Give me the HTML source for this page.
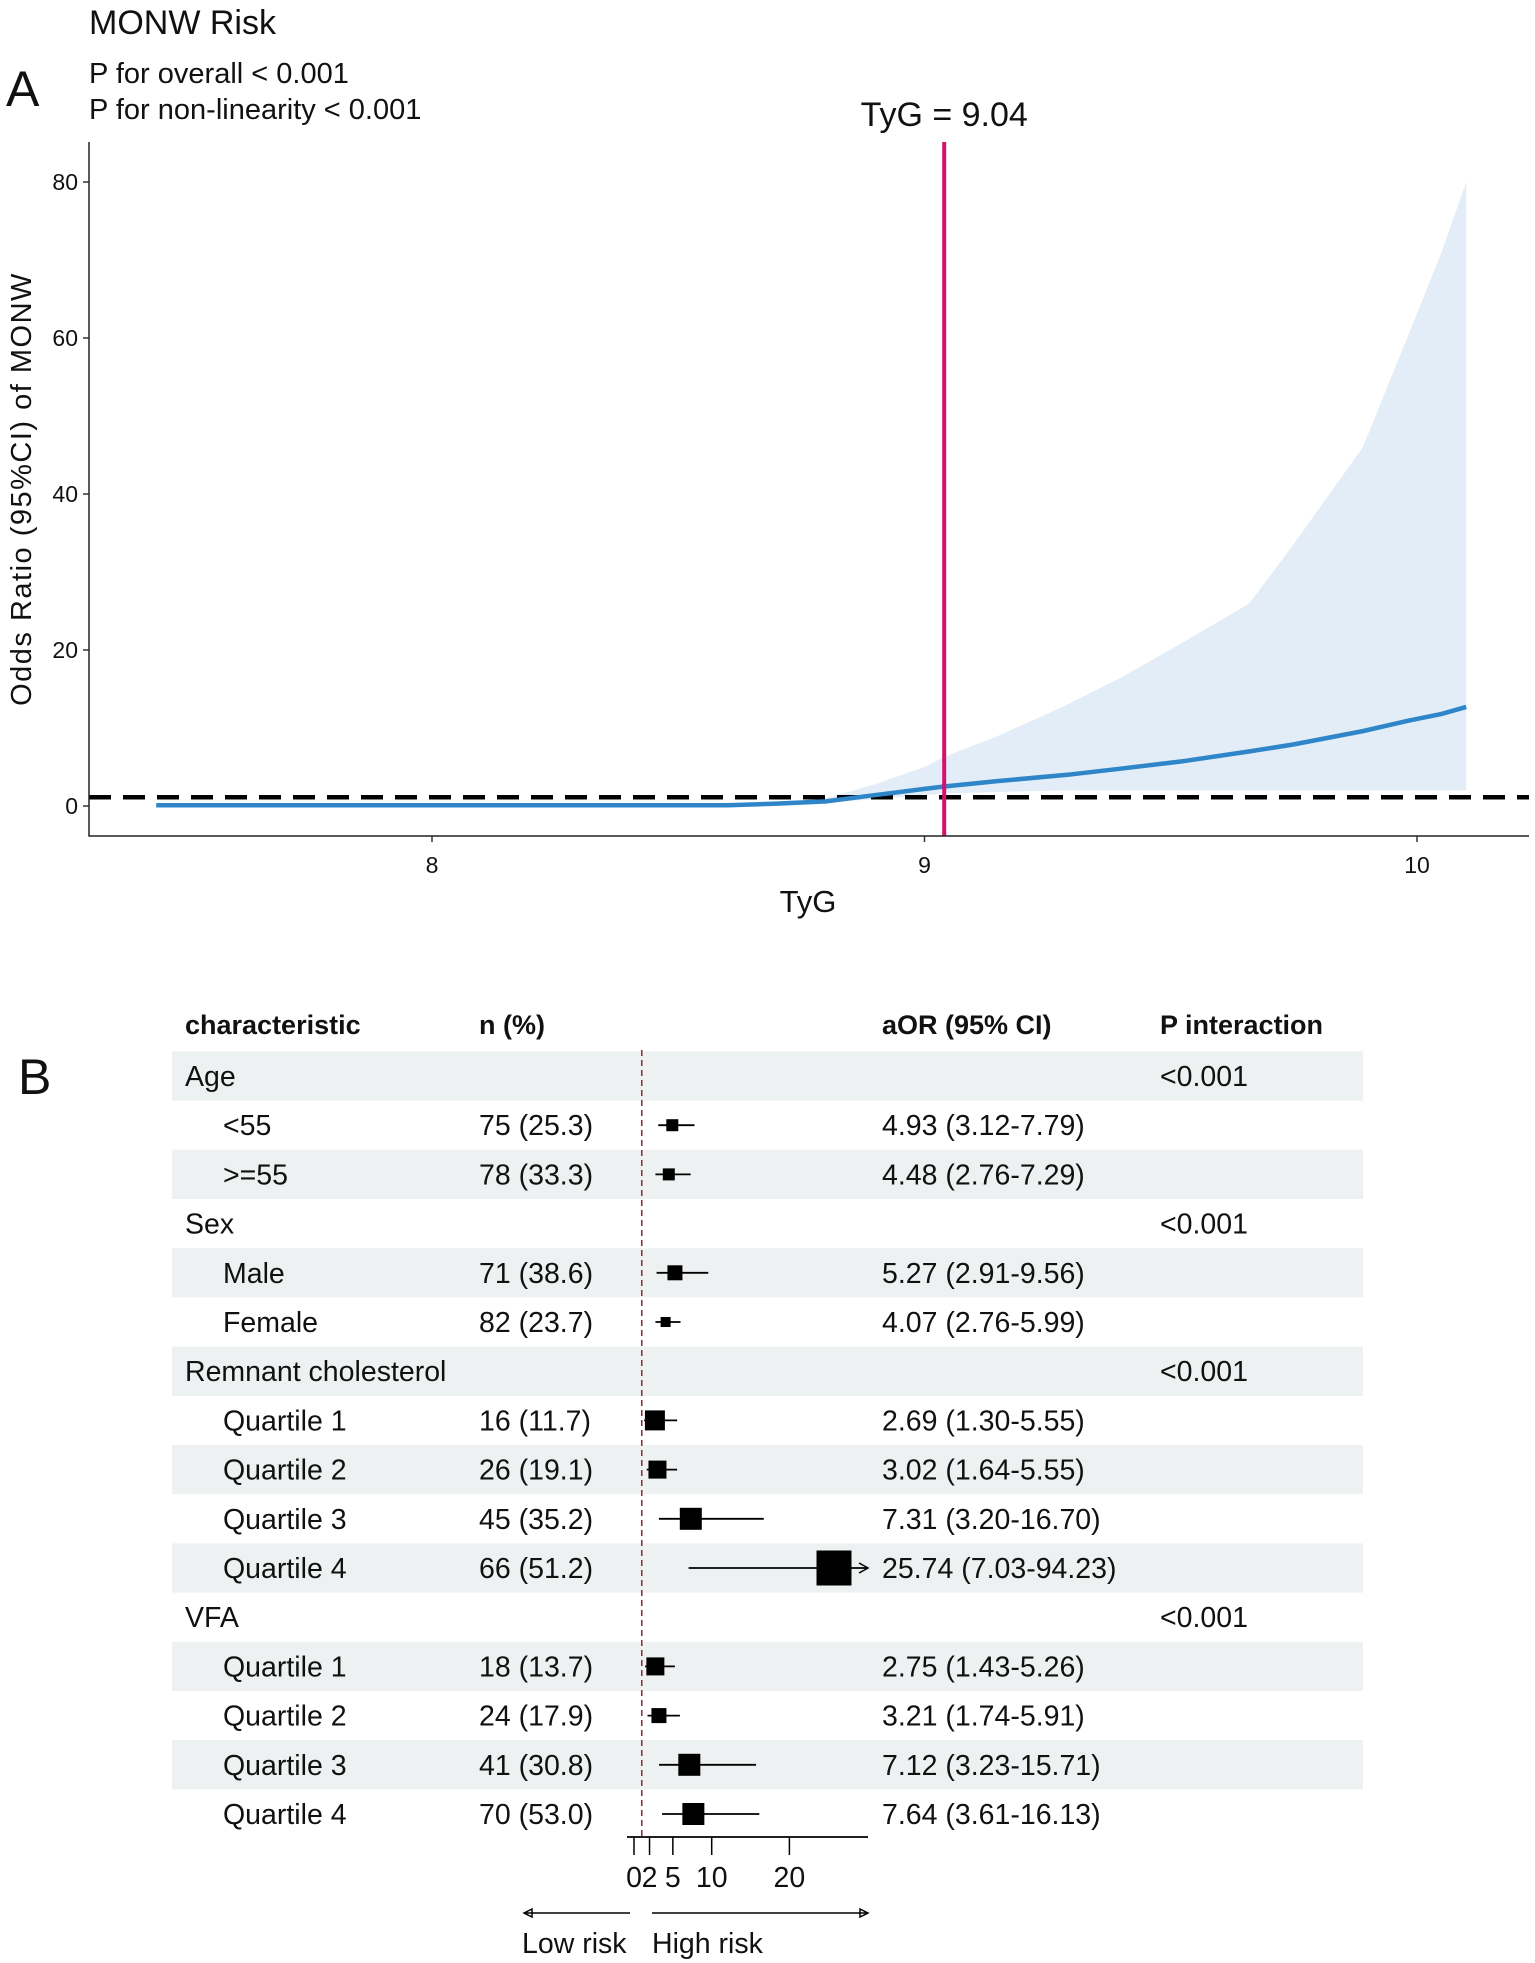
<!DOCTYPE html>
<html><head><meta charset="utf-8"><style>
html,body{margin:0;padding:0;background:#fff}
svg{display:block}
text{font-family:"Liberation Sans Narrow","Liberation Sans",sans-serif;fill:#111}
.b{font-family:"Liberation Sans",sans-serif;font-weight:bold}
</style></head><body>
<svg id="fig" width="1535" height="1963" viewBox="0 0 1535 1963" xmlns="http://www.w3.org/2000/svg">
<g id="pa"></g>
<g id="pb"></g>
</svg>
<script>
// Panel A data
const tygX = [7.44, 7.8, 8.2, 8.6, 8.7, 8.8, 8.9, 9.0, 9.04, 9.15, 9.29, 9.4, 9.52, 9.66, 9.75, 9.89, 9.98, 10.05, 10.1];
const orVal = [0.1, 0.1, 0.1, 0.1, 0.3, 0.6, 1.4, 2.2, 2.5, 3.2, 4.0, 4.8, 5.7, 7.0, 7.9, 9.6, 10.9, 11.8, 12.7];
const ciUpper = [0.1, 0.1, 0.1, 0.1, 0.4, 1.0, 2.8, 5.0, 6.3, 9.0, 13.0, 16.5, 20.8, 26.0, 33.6, 46.0, 60.0, 71.0, 80.0];
const ciLower = [0.1, 0.1, 0.1, 0.1, 0.2, 0.4, 0.9, 1.4, 1.6, 1.8, 2.0, 2.0, 2.0, 2.0, 2.0, 2.0, 2.0, 2.0, 2.0];
const xTicks = [8, 9, 10];
const yTicks = [0, 20, 40, 60, 80];
const cutoff = 9.04;
const refOR = 1;

// Panel B data
const rowLabels = ["Age","<55",">=55","Sex","Male","Female","Remnant cholesterol","Quartile 1","Quartile 2","Quartile 3","Quartile 4","VFA","Quartile 1","Quartile 2","Quartile 3","Quartile 4"];
const rowIndent = [0,1,1,0,1,1,0,1,1,1,1,0,1,1,1,1];
const nPct = ["","75 (25.3)","78 (33.3)","","71 (38.6)","82 (23.7)","","16 (11.7)","26 (19.1)","45 (35.2)","66 (51.2)","","18 (13.7)","24 (17.9)","41 (30.8)","70 (53.0)"];
const aOR = [null,4.93,4.48,null,5.27,4.07,null,2.69,3.02,7.31,25.74,null,2.75,3.21,7.12,7.64];
const ciLo = [null,3.12,2.76,null,2.91,2.76,null,1.30,1.64,3.20,7.03,null,1.43,1.74,3.23,3.61];
const ciHi = [null,7.79,7.29,null,9.56,5.99,null,5.55,5.55,16.70,94.23,null,5.26,5.91,15.71,16.13];
const boxWeight = [0,12,12,0,15,10,0,20,18,22,35,0,18,15,22,22];
const pInter = ["<0.001","","","<0.001","","","<0.001","","","","","<0.001","","","",""];
const fTicks = [0, 2, 5, 10, 20];
const fRef = 1;

const NS="http://www.w3.org/2000/svg";
function mk(parent, tag, attrs, txt){const e=document.createElementNS(NS,tag);for(const k in attrs)e.setAttribute(k,attrs[k]);if(txt!==undefined)e.textContent=txt;parent.appendChild(e);return e;}

// ---- Panel A ----
const pa=document.getElementById('pa');
const X=v=>432+(v-8)*492.5;
const Y=v=>806-v*7.8;
let t;
t=mk(pa,'text',{x:89,y:34,'font-size':34},'MONW Risk');


t=mk(pa,'text',{x:89,y:83,'font-size':29},'P for overall < 0.001');


t=mk(pa,'text',{x:89,y:119,'font-size':29},'P for non-linearity < 0.001');


t=mk(pa,'text',{x:6,y:106,'font-size':50},'A');



// CI band
let d='M'+tygX.map((x,i)=>X(x)+','+Y(ciUpper[i])).join(' L');
for(let i=tygX.length-1;i>=0;i--) d+=' L'+X(tygX[i])+','+Y(ciLower[i]);
t=mk(pa,'path',{d:d+'Z',fill:'#e3edf7'});


t=mk(pa,'line',{x1:89,x2:1529,y1:Y(refOR)-1,y2:Y(refOR)-1,stroke:'#000','stroke-width':4.5,'stroke-dasharray':'22,12'});


t=mk(pa,'polyline',{points:tygX.map((x,i)=>X(x)+','+Y(orVal[i])).join(' '),fill:'none',stroke:'#2e86c8','stroke-width':4.5});


t=mk(pa,'line',{x1:X(cutoff),x2:X(cutoff),y1:142,y2:836,stroke:'#d4126e','stroke-width':4});


t=mk(pa,'text',{x:X(cutoff),y:126,'font-size':34,'text-anchor':'middle'},'TyG = '+cutoff.toFixed(2));


t=mk(pa,'path',{d:'M89,142 L89,836 L1529,836',fill:'none',stroke:'#222','stroke-width':1.5});


yTicks.forEach(v=>{
  mk(pa,'line',{x1:83,x2:89,y1:Y(v),y2:Y(v),stroke:'#333','stroke-width':1.5});
  const tt=mk(pa,'text',{x:78,y:Y(v)+8,'font-size':23,'text-anchor':'end',fill:'#333'},String(v));
  
  
});
xTicks.forEach(v=>{
  mk(pa,'line',{x1:X(v),x2:X(v),y1:836,y2:842,stroke:'#333','stroke-width':1.5});
  const tt=mk(pa,'text',{x:X(v),y:873,'font-size':23,'text-anchor':'middle',fill:'#333'},String(v));
  
  
});
t=mk(pa,'text',{x:808,y:912,'font-size':31,'text-anchor':'middle'},'TyG');


t=mk(pa,'text',{x:0,y:0,'font-size':29,'text-anchor':'middle',transform:'translate(31,489) rotate(-90)',style:'font-family:\"Liberation Sans\",sans-serif;letter-spacing:1.5px'},'Odds Ratio (95%CI) of MONW');



// ---- Panel B ----
const pb=document.getElementById('pb');
const FX=v=>634+v*7.77;
const rowY=i=>1076+i*49.2;
t=mk(pb,'text',{x:18,y:1094,'font-size':50},'B');


const heads=[["characteristic",185],["n (%)",479],["aOR (95% CI)",882],["P interaction",1160]];
heads.forEach(h=>{
  const tt=mk(pb,'text',{x:h[1],y:1034,'font-size':27,class:'b'},h[0]);
  
  
});
rowLabels.forEach((lab,i)=>{
  const y=rowY(i);
  if(i%2===0){
    const r=mk(pb,'rect',{x:172,y:y-24.6,width:1191,height:49.2,fill:'#eef1f1'});
    
    
  }
  const a=mk(pb,'text',{x:rowIndent[i]?223:185,y:y+10,'font-size':28.5},lab);
  
  
  if(nPct[i]){const b=mk(pb,'text',{x:479,y:y+10,'font-size':28.5},nPct[i]);
    
    }
  if(aOR[i]!==null){
    const c=mk(pb,'text',{x:882,y:y+10,'font-size':28.5},aOR[i].toFixed(2)+' ('+ciLo[i].toFixed(2)+'-'+ciHi[i].toFixed(2)+')');
    
    
  }
  if(pInter[i]){const p=mk(pb,'text',{x:1160,y:y+10,'font-size':28.5},pInter[i]);
    
    }
});
t=mk(pb,'line',{x1:FX(fRef),x2:FX(fRef),y1:1050,y2:1837,stroke:'#8b2a2a','stroke-width':1.5,'stroke-dasharray':'6,4'});


const axMax=868;
rowLabels.forEach((lab,i)=>{
  if(aOR[i]===null)return;
  const y=rowY(i);
  const hi=Math.min(FX(ciHi[i]),axMax);
  const l=mk(pb,'line',{x1:FX(ciLo[i]),x2:hi,y1:y,y2:y,stroke:'#000','stroke-width':1.8});
  
  
  if(FX(ciHi[i])>axMax){
    const ar=mk(pb,'path',{d:`M${axMax-9},${y-5} L${axMax},${y} L${axMax-9},${y+5}`,fill:'none',stroke:'#000','stroke-width':1.5});
    
    
  }
  const s=boxWeight[i];
  const bx=mk(pb,'rect',{x:FX(aOR[i])-s/2,y:y-s/2,width:s,height:s,fill:'#000'});
  
  
});
t=mk(pb,'line',{x1:627,x2:axMax,y1:1837,y2:1837,stroke:'#000','stroke-width':1.8});


fTicks.forEach(v=>{
  mk(pb,'line',{x1:FX(v),x2:FX(v),y1:1837,y2:1855,stroke:'#000','stroke-width':1.5});
  const tt=mk(pb,'text',{x:FX(v),y:1887,'font-size':28.5,'text-anchor':'middle'},String(v));
  
  
});
t=mk(pb,'path',{d:'M630,1913 L524,1913 M532,1909 L524,1913 L532,1917 Z',fill:'none',stroke:'#000','stroke-width':1.5});


t=mk(pb,'path',{d:'M652,1913 L868,1913 M860,1909 L868,1913 L860,1917 Z',fill:'none',stroke:'#000','stroke-width':1.5});


t=mk(pb,'text',{x:522,y:1953,'font-size':28.5},'Low risk');


t=mk(pb,'text',{x:652,y:1953,'font-size':28.5},'High risk');


</script>
</body></html>
